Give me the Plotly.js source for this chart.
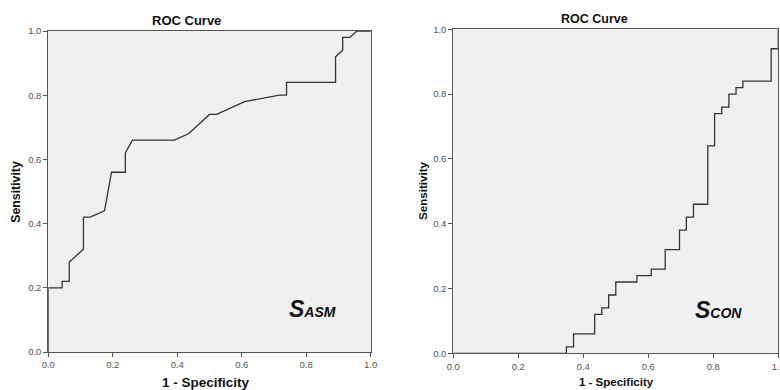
<!DOCTYPE html>
<html>
<head>
<meta charset="utf-8">
<script src="https://cdn.plot.ly/plotly-3.0.1.min.js"></script>
<style>html,body{margin:0;padding:0;background:#fff;}#chart{width:780px;height:390px;}</style>
</head>
<body>
<div id="chart"></div>
<script>
// Left panel: S_ASM ROC curve (1 - specificity vs sensitivity)
var asmFpr = [0, 0, 0.043, 0.043, 0.065, 0.065, 0.109, 0.109, 0.130, 0.174, 0.178, 0.196, 0.239, 0.239, 0.261, 0.391, 0.435, 0.5, 0.522, 0.609, 0.717, 0.739, 0.739, 0.891, 0.891, 0.913, 0.913, 0.935, 0.957, 1.0];
var asmTpr = [0, 0.2, 0.2, 0.22, 0.22, 0.28, 0.32, 0.42, 0.42, 0.44, 0.46, 0.56, 0.56, 0.62, 0.66, 0.66, 0.68, 0.74, 0.74, 0.78, 0.80, 0.80, 0.84, 0.84, 0.92, 0.94, 0.98, 0.98, 1.0, 1.0];
// Right panel: S_CON ROC curve
var conFpr = [0, 0.348, 0.348, 0.370, 0.370, 0.435, 0.435, 0.457, 0.457, 0.478, 0.478, 0.5, 0.5, 0.565, 0.565, 0.609, 0.609, 0.652, 0.652, 0.696, 0.696, 0.717, 0.717, 0.739, 0.739, 0.783, 0.783, 0.804, 0.804, 0.826, 0.826, 0.848, 0.848, 0.870, 0.870, 0.891, 0.891, 0.978, 0.978, 1.0, 1.0];
var conTpr = [0, 0, 0.02, 0.02, 0.06, 0.06, 0.12, 0.12, 0.14, 0.14, 0.18, 0.18, 0.22, 0.22, 0.24, 0.24, 0.26, 0.26, 0.32, 0.32, 0.38, 0.38, 0.42, 0.42, 0.46, 0.46, 0.64, 0.64, 0.74, 0.74, 0.76, 0.76, 0.80, 0.80, 0.82, 0.82, 0.84, 0.84, 0.94, 0.94, 1.0];

var tickVals = [0, 0.2, 0.4, 0.6, 0.8, 1.0];
var tickText = ['0.0', '0.2', '0.4', '0.6', '0.8', '1.0'];
var chartTitle = 'ROC Curve';
var xTitle = '1 - Specificity';
var yTitle = 'Sensitivity';

var FONT = 'Arial, "Liberation Sans", sans-serif';
var lineStyle = {color: '#333333', width: 1.3};

var traces = [
  {x: asmFpr, y: asmTpr, type: 'scatter', mode: 'lines', line: lineStyle, xaxis: 'x', yaxis: 'y', hoverinfo: 'skip'},
  {x: conFpr, y: conTpr, type: 'scatter', mode: 'lines', line: lineStyle, xaxis: 'x2', yaxis: 'y2', hoverinfo: 'skip'}
];

function axis(domain, anchor) {
  return {
    domain: domain, anchor: anchor, range: [0, 1], fixedrange: true,
    tickvals: tickVals, ticktext: tickText,
    ticks: 'outside', ticklen: 4, tickwidth: 1, tickcolor: '#555',
    showline: true, linecolor: '#555', linewidth: 1, mirror: true,
    showgrid: false, zeroline: false,
    ticklabeloverflow: 'allow',
    tickfont: {family: FONT, size: 9.5, color: '#555'}
  };
}

var layout = {
  width: 780, height: 390,
  margin: {l: 0, r: 0, t: 0, b: 0},
  paper_bgcolor: '#ffffff', plot_bgcolor: '#f0f0f0',
  showlegend: false,
  xaxis: axis([48.3/780, 370.7/780], 'y'),
  yaxis: axis([1 - 352/390, 1 - 31/390], 'x'),
  xaxis2: axis([453.3/780, 778.3/780], 'y2'),
  yaxis2: axis([1 - 353.3/390, 1 - 29.3/390], 'x2'),
  annotations: [
    {text: '<b>' + chartTitle + '</b>', xref: 'paper', yref: 'paper', x: 186.5/780, y: 1 - 20/390, xanchor: 'center', yanchor: 'middle', showarrow: false, font: {family: FONT, size: 13, color: '#111'}},
    {text: '<b>' + chartTitle + '</b>', xref: 'paper', yref: 'paper', x: 594/780, y: 1 - 19/390, xanchor: 'center', yanchor: 'middle', showarrow: false, font: {family: FONT, size: 12.5, color: '#111'}},
    {text: '<b>' + xTitle + '</b>', xref: 'paper', yref: 'paper', x: 205.7/780, y: 1 - 382/390, xanchor: 'center', yanchor: 'middle', showarrow: false, font: {family: FONT, size: 13.5, color: '#111'}},
    {text: '<b>' + xTitle + '</b>', xref: 'paper', yref: 'paper', x: 616.5/780, y: 1 - 382/390, xanchor: 'center', yanchor: 'middle', showarrow: false, font: {family: FONT, size: 11.5, color: '#111'}},
    {text: '<b>' + yTitle + '</b>', xref: 'paper', yref: 'paper', x: 15.7/780, y: 1 - 192/390, xanchor: 'center', yanchor: 'middle', textangle: -90, showarrow: false, font: {family: FONT, size: 12.3, color: '#111'}},
    {text: '<b>' + yTitle + '</b>', xref: 'paper', yref: 'paper', x: 422/780, y: 1 - 191/390, xanchor: 'center', yanchor: 'middle', textangle: -90, showarrow: false, font: {family: FONT, size: 11.6, color: '#111'}},
    {text: '<b><i>S<span style="font-size:14px">ASM</span></i></b>', xref: 'x', yref: 'y', x: 0.74, y: 0.135, xanchor: 'left', yanchor: 'middle', showarrow: false, font: {family: FONT, size: 23, color: '#111'}},
    {text: '<b><i>S<span style="font-size:14px">CON</span></i></b>', xref: 'x2', yref: 'y2', x: 0.738, y: 0.135, xanchor: 'left', yanchor: 'middle', showarrow: false, font: {family: FONT, size: 23, color: '#111'}}
  ]
};

Plotly.newPlot('chart', traces, layout, {staticPlot: true, displayModeBar: false});
</script>
</body>
</html>
